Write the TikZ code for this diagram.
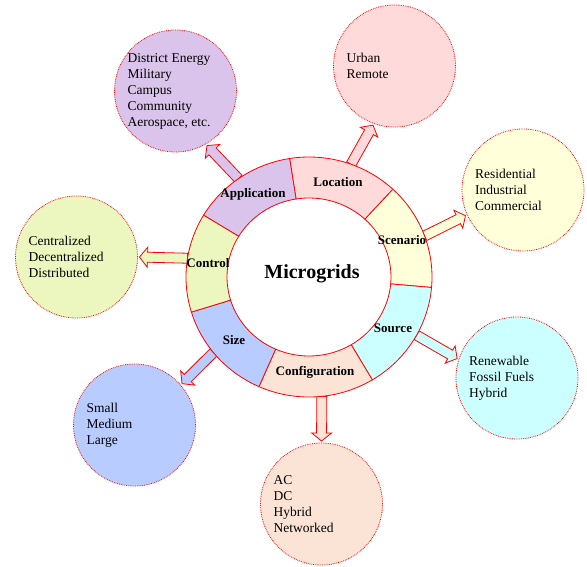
\documentclass[tikz,border=0pt]{standalone}
\usepackage{fontspec}
\setmainfont{Liberation Serif}
\usetikzlibrary{calc}

\definecolor{appc}{HTML}{DAC4EB}
\definecolor{locc}{HTML}{FFDADA}
\definecolor{scnc}{HTML}{FFFFDA}
\definecolor{srcc}{HTML}{CCFFFF}
\definecolor{cfgc}{HTML}{FBE4D5}
\definecolor{sizc}{HTML}{B9CCFF}
\definecolor{ctlc}{HTML}{EBF7BE}

\begin{document}
\begin{tikzpicture}[x=1pt,y=1pt,
        bubble/.style={circle, draw=red, densely dotted, line width=0.8pt,
            minimum size=122pt, inner sep=0pt, outer sep=2pt},
        bubtext/.style={anchor=west, align=left, inner sep=0pt,
            font=\fontsize{13.5}{16}\selectfont},
        seglabel/.style={inner sep=0pt, font=\bfseries\fontsize{13}{15}\selectfont},
        blockarrow/.style={draw=red, line width=0.8pt, to path={
            ($(\tikztostart)!5pt!90:(\tikztotarget)$)
            -- ($($(\tikztotarget)!8pt!(\tikztostart)$)!5pt!90:(\tikztotarget)$)
            -- ($($(\tikztotarget)!8pt!(\tikztostart)$)!10pt!90:(\tikztotarget)$)
            -- (\tikztotarget)
            -- ($($(\tikztotarget)!8pt!(\tikztostart)$)!10pt!-90:(\tikztotarget)$)
            -- ($($(\tikztotarget)!8pt!(\tikztostart)$)!5pt!-90:(\tikztotarget)$)
            -- ($(\tikztostart)!5pt!-90:(\tikztotarget)$) -- cycle}}]
    \fill[white] (0,0) rectangle (587,-566);
    \useasboundingbox (0,0) rectangle (587,-566);
    \coordinate (c) at (309,-277);

    % outer circles
    \node[bubble, fill=appc] (app) at (175.5,-91) {};
    \node[bubble, fill=locc] (loc) at (394.5,-66) {};
    \node[bubble, fill=scnc] (scn) at (523,-190) {};
    \node[bubble, fill=srcc] (src) at (517,-378) {};
    \node[bubble, fill=cfgc] (cfg) at (321.5,-504) {};
    \node[bubble, fill=sizc] (siz) at (134.5,-425) {};
    \node[bubble, fill=ctlc] (ctl) at (76.5,-257) {};

    \node[bubtext] (x_app) at ([xshift=-48pt]app.center)
        {District Energy\\Military\\Campus\\Community\\Aerospace, etc.};
    \node[bubtext] (x_loc) at ([xshift=-48pt]loc.center) {Urban\\Remote};
    \node[bubtext] (x_scn) at ([xshift=-48pt]scn.center)
        {Residential\\Industrial\\Commercial};
    \node[bubtext] (x_src) at ([xshift=-48pt]src.center)
        {Renewable\\Fossil Fuels\\Hybrid};
    \node[bubtext] (x_cfg) at ([xshift=-48pt]cfg.center)
        {AC\\DC\\Hybrid\\Networked};
    \node[bubtext] (x_siz) at ([xshift=-48pt]siz.center) {Small\\Medium\\Large};
    \node[bubtext] (x_ctl) at ([xshift=-48pt]ctl.center)
        {Centralized\\Decentralized\\Distributed};

    % arrows from the ring
    \coordinate (t_app) at ($(c)+(125:123pt and 120pt)$);
    \coordinate (t_loc) at ($(c)+(70:123pt and 120pt)$);
    \coordinate (t_scn) at ($(c)+(20:123pt and 120pt)$);
    \coordinate (t_src) at ($(c)+(-29:123pt and 120pt)$);
    \coordinate (t_cfg) at ($(c)+(-84:123pt and 120pt)$);
    \coordinate (t_siz) at ($(c)+(219:123pt and 120pt)$);
    \coordinate (t_ctl) at ($(c)+(171:123pt and 120pt)$);
    \draw[blockarrow, fill=appc] (t_app) to (app.-60);
    \draw[blockarrow, fill=locc] (t_loc) to (loc.250);
    \draw[blockarrow, fill=scnc] (t_scn) to (scn.204);
    \draw[blockarrow, fill=srcc] (t_src) to (src.162);
    \draw[blockarrow, fill=cfgc] (t_cfg) to (cfg.90);
    \draw[blockarrow, fill=sizc] (t_siz) to (siz.41);
    \draw[blockarrow, fill=ctlc] (t_ctl) to (ctl.0);

    % ring
    \foreach \a/\b/\col in {99/149/appc, 47/99/locc, -5/47/scnc, -59/-5/srcc,
            -114/-59/cfgc, -163/-114/sizc, -211/-163/ctlc}
        \filldraw[fill=\col, draw=red, line width=0.8pt]
            ($(c)+(\a:123pt and 120pt)$)
            arc[start angle=\a, end angle=\b, x radius=123pt, y radius=120pt]
            -- ($(c)+(\b:82pt and 79pt)$)
            arc[start angle=\b, end angle=\a, x radius=82pt, y radius=79pt]
            -- cycle;

    \node[seglabel] (l_app) at (253,-194) {Application};
    \node[seglabel] (l_loc) at (338,-182) {Location};
    \node[seglabel] (l_scn) at (402,-240) {Scenario};
    \node[seglabel] (l_src) at (393,-328) {Source};
    \node[seglabel] (l_cfg) at (315,-372) {Configuration};
    \node[seglabel] (l_siz) at (234,-340) {Size};
    \node[seglabel] (l_ctl) at (208,-263) {Control};
    \node[inner sep=0pt, font=\bfseries\fontsize{20}{24}\selectfont] (mg)
        at (312,-274) {Microgrids};
\end{tikzpicture}
\end{document}
